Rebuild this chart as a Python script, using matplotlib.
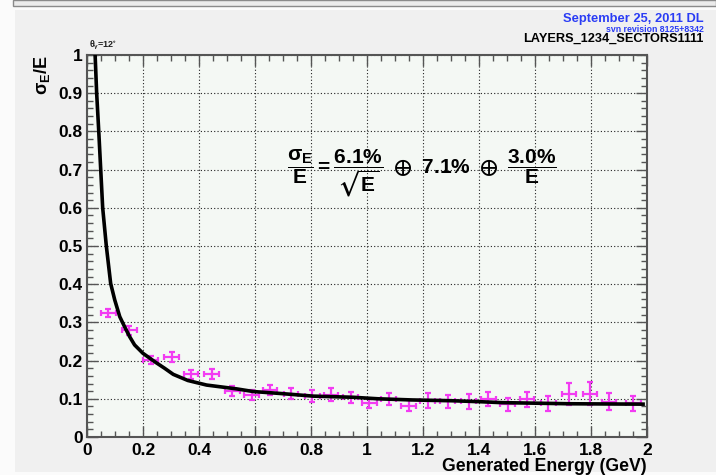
import matplotlib
matplotlib.use('Agg')
import matplotlib.pyplot as plt
from matplotlib.patches import Rectangle
from matplotlib.ticker import MultipleLocator

# ---------------- data ----------------
energy = [0.076, 0.151, 0.227, 0.302, 0.371, 0.445, 0.519, 0.588, 0.654,
          0.729, 0.805, 0.871, 0.942, 1.008, 1.077, 1.149, 1.217, 1.288,
          1.363, 1.433, 1.502, 1.572, 1.648, 1.721, 1.796, 1.865, 1.951]
resolution = [0.324, 0.279, 0.202, 0.210, 0.164, 0.165, 0.120, 0.110, 0.123,
              0.113, 0.107, 0.111, 0.104, 0.088, 0.099, 0.082, 0.095, 0.093,
              0.093, 0.099, 0.0855, 0.099, 0.088, 0.112, 0.113, 0.0925, 0.088]
resolution_err = [0.0105, 0.011, 0.011, 0.013, 0.012, 0.013, 0.013, 0.012, 0.013,
                  0.014, 0.015, 0.016, 0.015, 0.012, 0.016, 0.014, 0.019, 0.017,
                  0.020, 0.019, 0.017, 0.020, 0.020, 0.029, 0.030, 0.022, 0.020]
energy_err = 0.026

fit_energy = [0.029, 0.0345, 0.042, 0.049, 0.056, 0.069, 0.0845, 0.099, 0.117,
              0.134, 0.152, 0.170, 0.200, 0.242, 0.277, 0.308, 0.36, 0.427,
              0.534, 0.594, 0.689, 0.808, 0.95, 1.04, 1.16, 1.30, 1.40, 1.48,
              1.725, 1.986]
fit_resolution = [1.00, 0.90, 0.80, 0.70, 0.60, 0.50, 0.402, 0.359, 0.315,
                  0.289, 0.263, 0.241, 0.219, 0.197, 0.180, 0.164, 0.148, 0.136,
                  0.126, 0.119, 0.114, 0.107, 0.104, 0.100, 0.097, 0.095, 0.0925, 0.090,
                  0.087, 0.086]

x_ticks = [0, 0.2, 0.4, 0.6, 0.8, 1, 1.2, 1.4, 1.6, 1.8, 2]
x_tick_labels = ['0', '0.2', '0.4', '0.6', '0.8', '1', '1.2', '1.4', '1.6', '1.8', '2']
y_ticks = [0, 0.1, 0.2, 0.3, 0.4, 0.5, 0.6, 0.7, 0.8, 0.9, 1]
y_tick_labels = ['0', '0.1', '0.2', '0.3', '0.4', '0.5', '0.6', '0.7', '0.8', '0.9', '1']

# ---------------- style ----------------
plt.rcParams['font.family'] = ['Liberation Sans', 'DejaVu Sans']
plt.rcParams['font.weight'] = 'bold'
plt.rcParams['mathtext.fontset'] = 'custom'
plt.rcParams['mathtext.rm'] = 'Liberation Sans:bold'
plt.rcParams['mathtext.bf'] = 'Liberation Sans:bold'
plt.rcParams['mathtext.it'] = 'Liberation Sans:bold'
plt.rcParams['mathtext.sf'] = 'Liberation Sans:bold'
plt.rcParams['mathtext.fallback'] = 'stixsans'

W, H = 716, 475
fig = plt.figure(figsize=(W / 100, H / 100), dpi=100)
fig.patch.set_facecolor('#fbfbfb')


def fx(x):
    return x / W


def fy(y):
    return 1 - y / H


# window decoration and canvas background
fig.add_artist(Rectangle((fx(13), fy(6)), (W - 13) / W, 6 / H, transform=fig.transFigure,
                         facecolor='#ebebeb', edgecolor='#8a8a8a', lw=1.0, zorder=-10))
fig.add_artist(Rectangle((fx(15), fy(472)), (W - 15) / W, (472 - 10) / H, transform=fig.transFigure,
                         facecolor='#f0f0f0', edgecolor='none', zorder=-10))

ax = fig.add_axes([fx(87), fy(437), (647 - 87) / W, (437 - 55) / H])
ax.set_facecolor('#f4f8f4')

ax.errorbar(energy, resolution, yerr=resolution_err, xerr=energy_err, fmt='none',
            ecolor='#f23cf2', elinewidth=1.6, capsize=2.2, capthick=1.6, zorder=3)
ax.plot(fit_energy, fit_resolution, color='black', lw=2.6, zorder=4, solid_joinstyle='round')

ax.set_xlim(0, 2)
ax.set_ylim(0, 1)
ax.set_xticks(x_ticks)
ax.set_xticklabels(x_tick_labels)
ax.set_yticks(y_ticks)
ax.set_yticklabels(y_tick_labels)
ax.xaxis.set_minor_locator(MultipleLocator(0.05))
ax.yaxis.set_minor_locator(MultipleLocator(0.02))
ax.tick_params(which='both', direction='in', top=True, right=True, color='#555555', width=1.0,
               labelsize=12.5, pad=3)
ax.tick_params(which='major', length=8)
ax.tick_params(which='minor', length=4)
ax.tick_params(axis='x', which='major', pad=4)
for lab in ax.get_xticklabels() + ax.get_yticklabels():
    lab.set_fontweight('bold')

ax.grid(True, which='major', linestyle=(0, (1, 2)), color='#222222', lw=0.8)
for s in ax.spines.values():
    s.set_color('#555555')
    s.set_linewidth(1.5)

ax.set_xlabel('Generated Energy (GeV)', loc='right', fontsize=12.7, fontweight='bold', labelpad=0)
ax.set_ylabel(r'$\sigma_{E}$/E', loc='top', fontsize=13, fontweight='bold', labelpad=5)

ax.text(1.196, 0.692,
        r'$\dfrac{\sigma_{E}}{E} = \dfrac{6.1\%}{\sqrt{E}}\ \oplus\ 7.1\%\ \oplus\ \dfrac{3.0\%}{E}$',
        ha='center', va='center', fontsize=15, fontweight='bold')

fig.text(fx(704), fy(19), 'September 25, 2011 DL', ha='right', va='center',
         fontsize=9.3, fontweight='bold', color='#2a3cf5')
fig.text(fx(704), fy(29), 'svn revision 8125+8342', ha='right', va='center',
         fontsize=6.3, fontweight='bold', color='#2a3cf5')
fig.text(fx(704), fy(39), 'LAYERS_1234_SECTORS1111', ha='right', va='center',
         fontsize=9.2, fontweight='bold', color='black')
fig.text(fx(89), fy(45), r'$\theta_{\gamma}$=12$^{\circ}$', ha='left', va='center',
         fontsize=6.5, fontweight='bold', color='#222222')

fig.savefig('out.png', dpi=100, facecolor=fig.get_facecolor())
